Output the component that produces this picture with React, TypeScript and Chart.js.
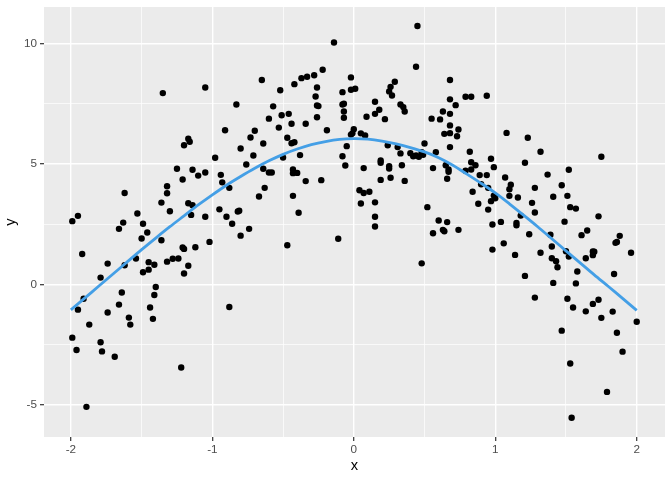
import React, { useEffect, useRef } from "react";
import { Chart, registerables } from "chart.js";

Chart.register(...registerables);

const pointX: number[] = [
  -1.35, -1.05, -0.83, -0.91, -0.70, -0.73, -1.17, -1.16, -1.20, -0.80,
  -0.71, -0.98, -0.76, -1.25, -1.14, -1.05, -1.10, -0.94, -1.21, -0.93,
  -0.88, -1.32, -1.32, -1.62, -1.36, -1.17, -1.14, -1.30, -1.53, -1.15,
  -0.95, -0.82, -0.81, -0.90, -1.05, -1.95, -1.99, -1.63, -1.49, -0.86,
  -1.66, -1.46, -1.50, -1.36, -1.92, -1.74, -1.62, -1.54, -1.45, -1.41,
  -1.45, -1.49, -1.32, -1.28, -1.24, -1.21, -1.20, -1.12, -1.02, -1.17,
  -1.20, -0.80, -0.74, -1.79, -1.91, -1.95, -1.64, -1.66, -1.74, -1.87,
  -1.59, -1.58, -1.40, -1.41, -1.44, -1.42, -0.88, -1.99, -1.96, -1.79,
  -1.78, -1.69, -1.22, -1.89,
  0.45, -0.14, 0.44, -0.65, -0.42, -0.37, -0.33, -0.28, -0.22, -0.26,
  -0.27, -0.26, -0.25, -0.26, -0.02, -0.08, -0.02, 0.01, -0.08, -0.07,
  -0.07, -0.07, -0.52, -0.57, -0.51, -0.46, -0.60, -0.53, -0.44, -0.34,
  -0.19, -0.64, -0.47, -0.44, -0.42, -0.50, -0.38, -0.64, -0.60, -0.58,
  -0.43, -0.43, -0.40, -0.34, -0.23, -0.63, -0.67, -0.43, -0.39, -0.05,
  -0.08, -0.06, 0.00, -0.02, -0.01, 0.05, 0.08, 0.09, 0.15, 0.18,
  0.15, 0.22, 0.25, 0.26, 0.29, 0.27, 0.33, 0.35, 0.36, 0.07,
  0.19, 0.19, 0.25, 0.25, 0.26, 0.19, 0.24, 0.31, 0.33, 0.34,
  0.36, 0.40, 0.42, 0.44, 0.46, 0.48, 0.49, 0.50, 0.55, 0.61,
  0.63, 0.68, 0.68, 0.72, 0.68, 0.68, 0.64, 0.68, 0.74, 0.73,
  0.68, 0.58, 0.56, 0.65, 0.67, 0.67, 0.66, 0.04, 0.07, 0.11,
  0.05, 0.15, 0.15, 0.52, 0.60, 0.66,
  -0.47, -0.11, 0.15, 0.48, 0.56, 0.63, 0.64, 0.74,
  0.79, 0.83, 0.94, 1.08, 1.23, 1.32, 1.75, 0.82, 0.83, 0.86,
  0.97, 0.99, 1.21, 0.79, 0.83, 0.89, 0.94, 1.07, 1.37, 1.52,
  1.11, 1.10, 0.84, 0.90, 0.95, 0.99, 1.00, 1.10, 1.16, 1.28,
  1.47, 1.41, 1.51, 0.88, 0.97, 0.95, 1.26, 1.28, 1.53, 1.57,
  1.73, 1.04, 0.98, 1.15, 1.18, 1.49,
  1.15, 0.98, 1.06, 1.14, 1.24, 1.32, 1.39, 1.40, 1.40, 1.43,
  1.44, 1.50, 1.52, 1.58, 1.61, 1.65, 1.64, 1.69, 1.70, 1.69,
  1.85, 1.86, 1.88, 1.96, 1.84, 1.21, 1.41, 1.57, 1.28, 1.51,
  1.55, 1.64, 1.69, 1.73, 1.75, 1.83, 2.00, 1.47, 1.86, 1.90,
  1.53, 1.79, 1.54,
];

const pointY: number[] = [
  7.94, 8.17, 7.47, 6.40, 6.38, 6.10, 6.05, 5.92, 5.78, 5.64,
  5.35, 5.26, 4.98, 4.80, 4.76, 4.65, 4.52, 4.55, 4.36, 4.24,
  4.01, 4.08, 3.79, 3.80, 3.40, 3.37, 3.29, 3.04, 2.95, 2.89,
  3.12, 3.03, 3.06, 2.81, 2.81, 2.85, 2.63, 2.57, 2.52, 2.52,
  2.31, 2.16, 1.91, 1.84, 1.27, 0.87, 0.80, 1.08, 0.93, 0.82,
  0.62, 0.51, 0.95, 1.07, 1.08, 1.54, 1.48, 1.55, 1.77, 0.78,
  0.46, 2.03, 2.31, 0.29, -0.59, -1.04, -0.33, -0.83, -1.16, -1.66,
  -1.37, -1.66, -0.10, -0.43, -0.95, -1.42, -0.93, -2.20, -2.71, -2.39,
  -2.77, -2.99, -3.44, -5.07,
  10.72, 10.04, 9.03, 8.48, 8.31, 8.56, 8.62, 8.68, 8.91, 8.17,
  7.80, 7.43, 7.40, 6.94, 8.59, 7.98, 8.08, 8.12, 7.47, 7.50,
  7.18, 6.92, 8.06, 7.39, 7.02, 7.08, 6.88, 6.51, 6.67, 6.67,
  6.40, 5.85, 6.09, 5.86, 5.90, 5.27, 5.37, 4.80, 4.65, 4.65,
  4.77, 4.62, 4.63, 4.29, 4.33, 4.01, 3.65, 3.68, 2.98, 5.74,
  5.32, 4.94, 6.44, 6.22, 6.27, 6.27, 6.18, 6.96, 7.58, 7.25,
  7.08, 6.86, 8.01, 8.20, 8.41, 7.84, 7.47, 7.36, 7.18, 4.83,
  5.15, 5.05, 4.91, 4.81, 4.43, 4.34, 5.78, 5.70, 5.44, 4.95,
  4.30, 5.45, 5.32, 5.35, 5.30, 5.49, 5.38, 5.85, 6.88, 6.85,
  7.18, 8.48, 7.68, 7.44, 7.08, 6.60, 6.25, 6.28, 6.43, 6.15,
  5.70, 5.49, 4.83, 4.95, 4.77, 4.68, 4.39, 3.91, 3.80, 3.85,
  3.36, 3.41, 2.81, 3.21, 2.66, 2.59,
  1.63, 1.90, 2.41, 0.88, 2.13, 2.27, 2.21, 2.27,
  7.79, 7.79, 7.83, 6.29, 6.09, 5.51, 5.30, 5.51, 5.07, 4.95,
  5.22, 4.87, 5.05, 4.72, 4.77, 4.54, 4.54, 4.44, 4.56, 4.76,
  4.14, 3.95, 3.85, 4.16, 4.01, 3.69, 3.58, 3.68, 3.61, 4.01,
  4.12, 3.64, 3.68, 3.35, 3.46, 3.11, 3.39, 2.99, 3.21, 3.15,
  2.83, 2.60, 2.49, 2.56, 2.86, 2.61,
  2.46, 1.45, 1.71, 1.23, 2.09, 1.32, 2.07, 1.58, 1.09, 0.97,
  0.72, 1.38, 1.16, 0.54, 2.05, 2.24, 1.09, 1.37, 1.36, 1.22,
  1.73, 1.77, 2.02, 1.32, 0.44, 0.36, 0.07, 0.05, -0.54, -0.59,
  -0.95, -1.11, -0.80, -0.63, -1.38, -1.12, -1.54, -1.91, -2.00, -2.78,
  -3.27, -4.45, -5.52,
];

const curveX: number[] = [
  -2.0, -1.9, -1.8, -1.7, -1.6, -1.5, -1.4, -1.3, -1.2, -1.1,
  -1.0, -0.9, -0.8, -0.7, -0.6, -0.5, -0.4, -0.3, -0.2, -0.1,
  0.0, 0.1, 0.2, 0.3, 0.4, 0.5, 0.6, 0.7, 0.8, 0.9,
  1.0, 1.1, 1.2, 1.3, 1.4, 1.5, 1.6, 1.7, 1.8, 1.9, 2.0,
];

const curveY: number[] = [
  -1.05, -0.55, -0.05, 0.45, 0.95, 1.45, 1.93, 2.4, 2.85, 3.3,
  3.72, 4.12, 4.48, 4.82, 5.13, 5.4, 5.62, 5.8, 5.93, 6.02,
  6.05, 6.03, 5.95, 5.83, 5.68, 5.5, 5.26, 4.95, 4.58, 4.2,
  3.8, 3.35, 2.88, 2.4, 1.9, 1.4, 0.9, 0.4, -0.08, -0.57, -1.07,
];

const xMajorTicks: number[] = [-2, -1, 0, 1, 2];
const xMinorTicks: number[] = [-1.5, -0.5, 0.5, 1.5];
const yMajorTicks: number[] = [-5, 0, 5, 10];
const yMinorTicks: number[] = [-2.5, 2.5, 7.5];

const FONT = "'Liberation Sans', Arial, Helvetica, sans-serif";

function isMajor(list: number[], v: number) {
  return list.some((m) => Math.abs(m - v) < 1e-9);
}

const panelBg = {
  id: "panelBg",
  beforeDraw(chart: any) {
    const { ctx, chartArea } = chart;
    ctx.save();
    ctx.fillStyle = "#EBEBEB";
    ctx.fillRect(chartArea.left, chartArea.top, chartArea.right - chartArea.left, chartArea.bottom - chartArea.top);
    ctx.restore();
  },
};

export default function App() {
  const ref = useRef<HTMLCanvasElement | null>(null);

  useEffect(() => {
    document.body.style.margin = "0";
    const canvas = ref.current;
    if (!canvas) return;

    const scatter = pointX.map((x, i) => ({ x, y: pointY[i] }));
    const curve = curveX.map((x, i) => ({ x, y: curveY[i] }));

    const makeGrid = (majors: number[]) => ({
      color: "#FFFFFF",
      lineWidth: (c: any) => (isMajor(majors, c.tick?.value) ? 1.4 : 0.7),
      drawTicks: true,
      tickLength: 4,
      tickColor: (c: any) => (isMajor(majors, c.tick?.value) ? "#333333" : "rgba(0,0,0,0)"),
      tickWidth: 1.2,
    });

    const chart = new Chart(canvas, {
      type: "scatter",
      data: {
        datasets: [
          {
            type: "line",
            data: curve,
            borderColor: "#449FE6",
            borderWidth: 2.8,
            pointRadius: 0,
            fill: false,
            tension: 0.3,
          } as any,
          {
            data: scatter,
            backgroundColor: "#000000",
            borderWidth: 0,
            pointRadius: 3.2,
            pointHoverRadius: 3.2,
          },
        ],
      },
      options: {
        animation: false,
        responsive: false,
        devicePixelRatio: 1,
        events: [],
        layout: { padding: { top: 7, right: 7, left: 0, bottom: 0 } },
        plugins: {
          legend: { display: false },
          tooltip: { enabled: false },
        },
        scales: {
          x: {
            type: "linear",
            min: -2.19,
            max: 2.2,
            border: { display: false },
            grid: makeGrid(xMajorTicks) as any,
            afterBuildTicks: (scale: any) => {
              scale.ticks = [...xMajorTicks, ...xMinorTicks].sort((a, b) => a - b).map((v) => ({ value: v }));
            },
            afterFit: (scale: any) => {
              scale.height = 43;
              scale.paddingLeft = 0;
              scale.paddingRight = 0;
            },
            ticks: {
              autoSkip: false,
              maxRotation: 0,
              padding: 2,
              color: "#4D4D4D",
              font: { family: FONT, size: 11.7 },
              callback: (v: any) => (isMajor(xMajorTicks, Number(v)) ? String(v) : ""),
            },
            title: {
              display: true,
              text: "x",
              color: "#000000",
              font: { family: FONT, size: 14.7 },
              padding: { top: 0, bottom: 5 },
            },
          },
          y: {
            type: "linear",
            min: -6.32,
            max: 11.51,
            border: { display: false },
            grid: makeGrid(yMajorTicks) as any,
            afterBuildTicks: (scale: any) => {
              scale.ticks = [...yMajorTicks, ...yMinorTicks].sort((a, b) => a - b).map((v) => ({ value: v }));
            },
            afterFit: (scale: any) => {
              scale.width = 44;
              scale.paddingTop = 0;
              scale.paddingBottom = 0;
            },
            ticks: {
              autoSkip: false,
              padding: 3,
              color: "#4D4D4D",
              font: { family: FONT, size: 11.7 },
              callback: (v: any) => (isMajor(yMajorTicks, Number(v)) ? String(v) : ""),
            },
            title: {
              display: true,
              text: "y",
              color: "#000000",
              font: { family: FONT, size: 14.7 },
              padding: { top: 2, bottom: 0 },
            },
          },
        },
      },
      plugins: [panelBg],
    });

    return () => chart.destroy();
  }, []);

  return <canvas ref={ref} width={672} height={480} style={{ display: "block" }} />;
}
